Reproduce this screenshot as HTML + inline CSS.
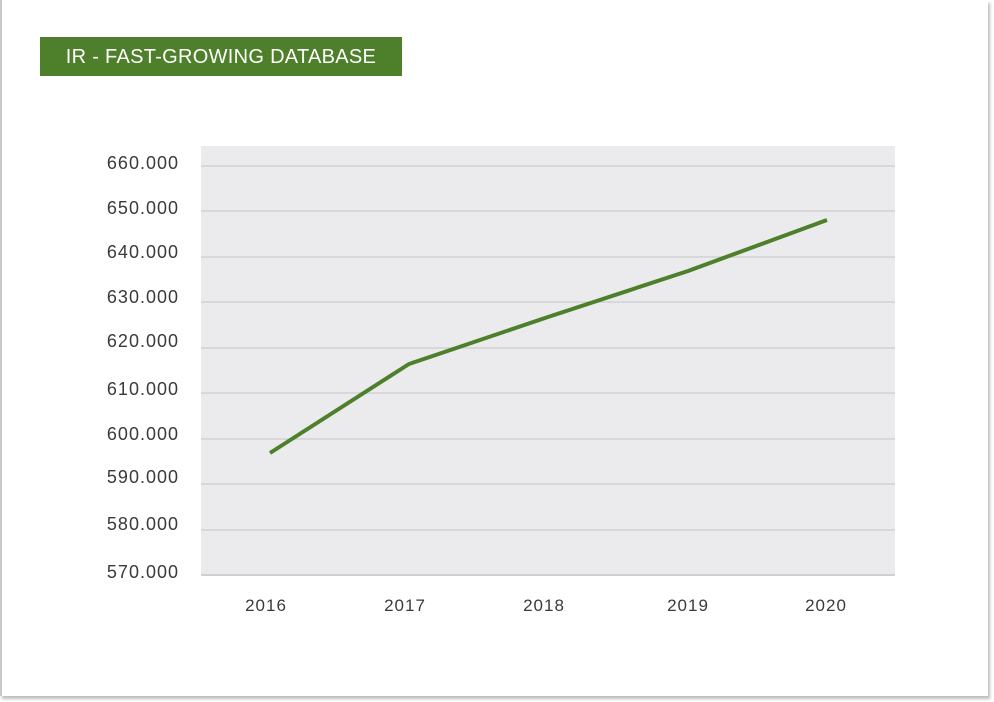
<!DOCTYPE html>
<html><head><style>
body{margin:0;width:994px;height:702px;background:#fff;overflow:hidden;position:relative;font-family:"Liberation Sans",sans-serif}
.frame{position:absolute;left:0;top:0;width:986px;height:696px;border-left:2px solid #c8c8c8;box-shadow:2px 3px 3px #bdbdbd;background:#fff}
.title{position:absolute;left:40px;top:37px;width:362px;height:39px;background:#4e7f2b;color:#fff;font-size:20px;line-height:40px;text-align:center;letter-spacing:0.3px}
</style></head><body>
<div class="frame"></div>
<div class="title">IR - FAST-GROWING DATABASE</div>
<svg width="994" height="702" style="position:absolute;left:0;top:0">
<rect x="201" y="146" width="694" height="430" fill="#ebebed"/>
<g stroke="#d2d2d4" stroke-width="1.5">
<line x1="201" x2="895" y1="166" y2="166"/><line x1="201" x2="895" y1="211" y2="211"/>
<line x1="201" x2="895" y1="257" y2="257"/><line x1="201" x2="895" y1="302" y2="302"/>
<line x1="201" x2="895" y1="348" y2="348"/><line x1="201" x2="895" y1="393" y2="393"/>
<line x1="201" x2="895" y1="439" y2="439"/><line x1="201" x2="895" y1="484" y2="484"/>
<line x1="201" x2="895" y1="530" y2="530"/><line x1="201" x2="895" y1="575" y2="575" stroke="#cfcfd1" stroke-width="2"/>
</g>
<g font-family="Liberation Sans" font-size="18" fill="#3a3a3a" text-anchor="end" letter-spacing="1">
<text x="179" y="169">660.000</text><text x="179" y="214">650.000</text>
<text x="179" y="258">640.000</text><text x="179" y="303">630.000</text>
<text x="179" y="347">620.000</text><text x="179" y="395">610.000</text>
<text x="179" y="440">600.000</text><text x="179" y="483">590.000</text>
<text x="179" y="530">580.000</text><text x="179" y="578">570.000</text>
</g>
<g font-family="Liberation Sans" font-size="17" fill="#3a3a3a" text-anchor="middle" letter-spacing="1">
<text x="266" y="611">2016</text><text x="405" y="611">2017</text>
<text x="544" y="611">2018</text><text x="688" y="611">2019</text><text x="826" y="611">2020</text>
</g>
<polyline points="270,453 409,364 548,317 688,271 827,220" fill="none" stroke="#4e7f2b" stroke-width="4" stroke-linejoin="round"/>
</svg>
</body></html>
